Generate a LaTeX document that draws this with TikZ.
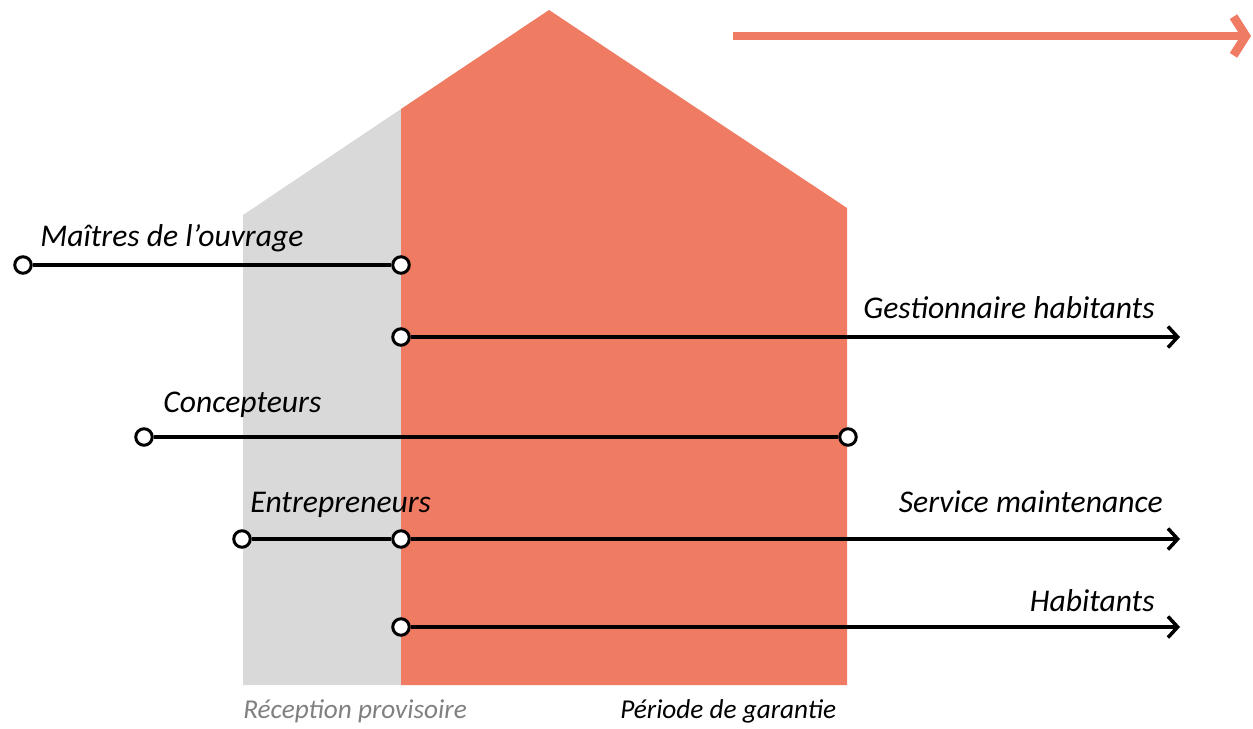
\documentclass[tikz,border=0pt]{standalone}
\usepackage{fontspec}
\setmainfont{Carlito}
\usepackage{xcolor}
\usepackage{tikz}
\usetikzlibrary{arrows.meta,positioning}
\definecolor{saumon}{RGB}{239,123,99}
\definecolor{grisclair}{RGB}{217,217,217}
\tikzset{pt/.style={circle,draw,fill=white,line width=1.7pt,minimum size=0.33cm,inner sep=0pt},
  lab/.style={font=\fontsize{18}{20}\selectfont\itshape,inner sep=0pt},
  foot/.style={font=\fontsize{15.5}{17}\selectfont\itshape,inner sep=0pt},
  ligne/.style={line width=2pt},
  fleche/.style={line width=2pt,-{Straight Barb[length=5.5pt,width=12pt,line width=2pt]}}}

\begin{document}
\begin{tikzpicture}[x=0.02cm,y=-0.02cm]
    \useasboundingbox (0,0) rectangle (1253,728);
    % maison
    \fill[grisclair] (243,685) -- (243,215) -- (401,109) -- (401,685) -- cycle;
    \fill[saumon] (401,685) -- (401,109) -- (549,10) -- (847,208) -- (847,685) -- cycle;
    \coordinate (t0) at (733,36);
    \coordinate (t1) at (1251,36);
    \draw [line width=5pt,saumon,-{Straight Barb[length=7pt,width=22pt,line width=5pt]}] (t0) -- (t1);

    \coordinate (g) at (1180,337);
    \coordinate (s) at (1180,539);
    \coordinate (h) at (1180,627);

    \node[pt] (a1) at (23,265) {};
    \node[pt] (a2) at (401,265) {};
    \node[pt] (b1) at (401,337) {};
    \node[pt] (c1) at (144,437) {};
    \node[pt] (c2) at (848,437) {};
    \node[pt] (e1) at (242,539) {};
    \node[pt] (e2) at (401,539) {};
    \node[pt] (f1) at (401,627) {};

    \draw [ligne] (a1) -- (a2);
    \draw [fleche] (b1) -- (g);
    \draw [ligne] (c1) -- (c2);
    \draw [ligne] (e1) -- (e2);
    \draw [fleche] (e2) -- (s);
    \draw [fleche] (f1) -- (h);

    \node[lab,anchor=base west] (ma) at (40,246) {Maîtres de l’ouvrage};
    \node[lab,anchor=base east] (gh) at (1155,318) {Gestionnaire habitants};
    \node[lab,anchor=base west] (co) at (163,412) {Concepteurs};
    \node[lab,anchor=base west] (en) at (250,512) {Entrepreneurs};
    \node[lab,anchor=base east] (sm) at (1163,512) {Service maintenance};
    \node[lab,anchor=base east] (ha) at (1155,611) {Habitants};
    \node[foot,anchor=base west,text=gray] (rp) at (243,718) {Réception provisoire};
    \node[foot,anchor=base west] (pg) at (620,718) {Période de garantie};
\end{tikzpicture}
\end{document}
